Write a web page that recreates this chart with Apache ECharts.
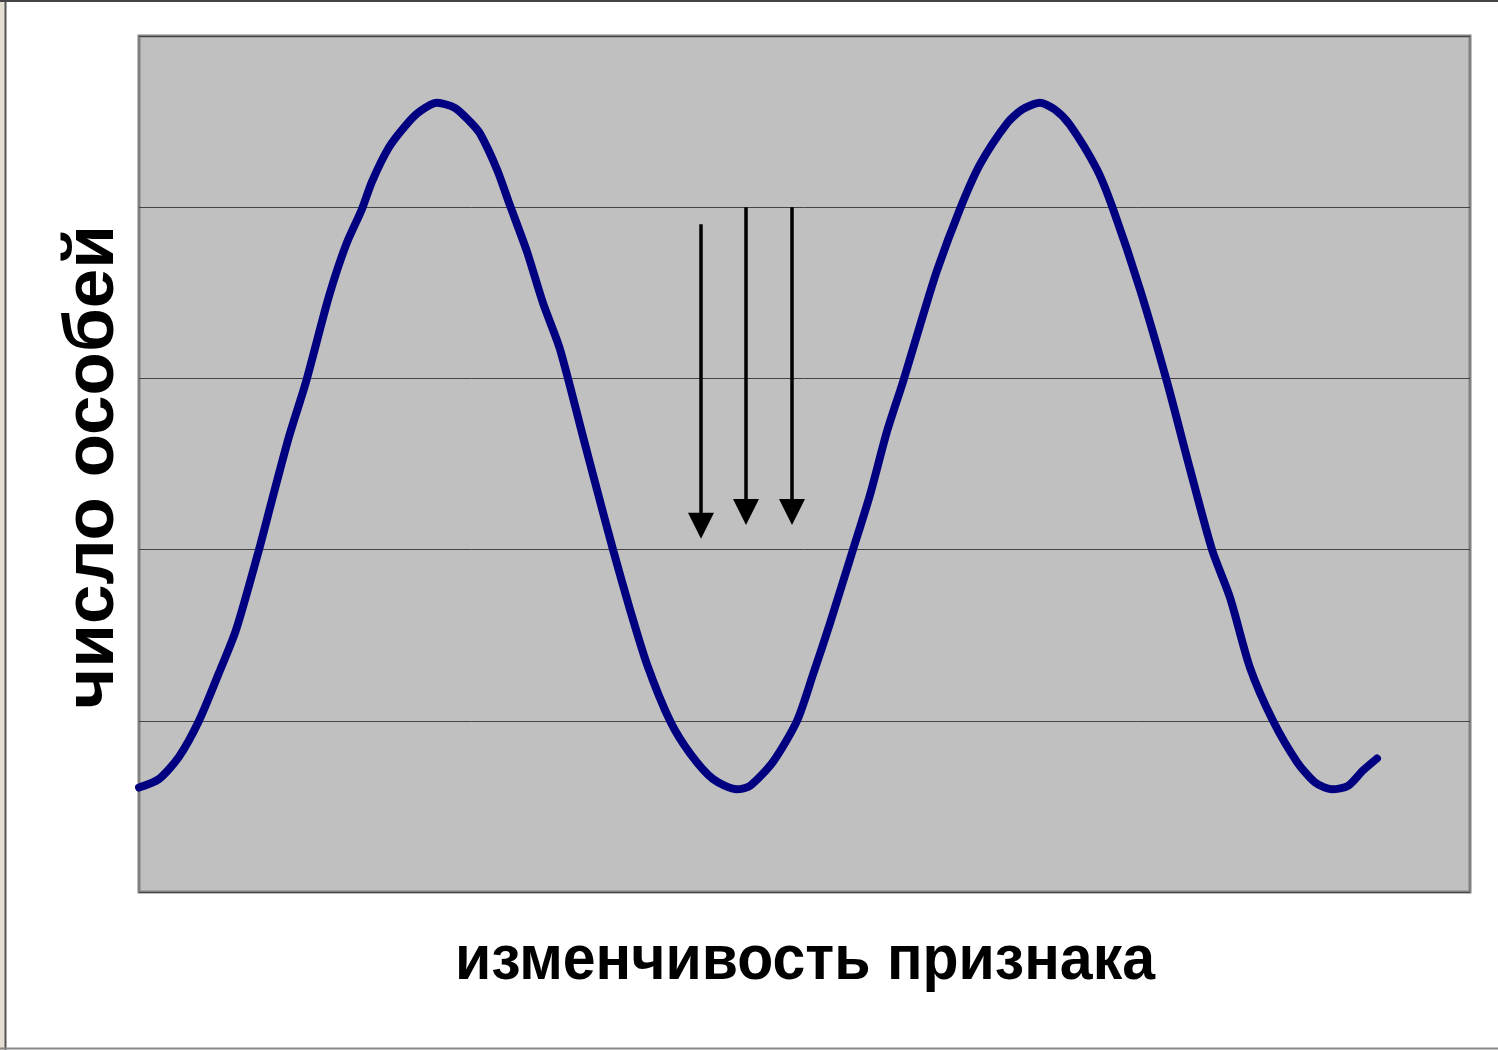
<!DOCTYPE html>
<html>
<head>
<meta charset="utf-8">
<script src="https://cdn.jsdelivr.net/npm/echarts@6/dist/echarts.min.js"></script>
<style>
  html, body { margin: 0; padding: 0; background: #fff; }
  #chart { width: 1498px; height: 1050px; }
</style>
</head>
<body>
<div id="chart"></div>
<script>
// curve: x = position along the axis, y = count
var curveX = [0.0, 2.0, 4.0, 6.0, 8.0, 9.7, 12.0, 13.3, 15.0, 16.7, 19.0, 20.7, 22.3, 23.3, 25.0, 26.7, 28.1, 29.8,
              31.6, 33.1, 34.1, 35.8, 37.1, 38.8, 40.4, 42.1, 44.4, 45.8, 47.4, 49.1, 50.8, 53.1, 55.1, 57.4, 59.8,
              61.1, 63.4, 65.8, 67.4, 69.1, 71.4, 73.1, 74.8, 76.4, 78.1, 79.8, 82.1, 84.1, 86.8, 88.3, 90.1,
              91.6, 93.1, 95.8, 97.4, 100.1, 102.8, 105.1, 107.3, 109.1, 111.1, 113.4, 115.8, 117.6, 119.3, 120.9, 122.4, 123.8];
var curveY = [0.61, 0.66, 0.79, 1.00, 1.28, 1.53, 2.00, 2.29, 2.66, 2.98, 3.48, 3.78, 3.99, 4.15, 4.35, 4.48, 4.56, 4.61,
              4.58, 4.50, 4.43, 4.22, 4.01, 3.74, 3.44, 3.17, 2.66, 2.35, 2.00, 1.65, 1.33, 1.00, 0.81, 0.66, 0.60,
              0.62, 0.76, 1.00, 1.27, 1.57, 2.00, 2.32, 2.69, 2.98, 3.31, 3.63, 3.99, 4.25, 4.49, 4.57, 4.61,
              4.57, 4.48, 4.22, 3.99, 3.52, 2.98, 2.47, 2.00, 1.72, 1.31, 1.00, 0.76, 0.64, 0.60, 0.62, 0.71, 0.78];

// three downward arrows (line start, line end where the head is centred)
var arrowX = [56.2, 60.7, 65.3];
var arrowTop = [3.90, 4.00, 4.00];
var arrowEnd = [2.14, 2.22, 2.22];

var xMax = 133.1;
var yTicks = [0, 1, 2, 3, 4, 5];

var xTitle = 'изменчивость признака';
var yTitle = 'число особей';

var chart = echarts.init(document.getElementById('chart'));

var curve = [];
for (var i = 0; i < curveX.length; i++) {
    curve.push([curveX[i], curveY[i]]);
}
var arrows = [];
for (var j = 0; j < arrowX.length; j++) {
    arrows.push({ coords: [[arrowX[j], arrowTop[j]], [arrowX[j], arrowEnd[j]]] });
}

var option = {
    backgroundColor: '#fff',
    animation: false,
    grid: {
        left: 139,
        top: 36,
        right: 28,
        bottom: 158,
        show: true,
        backgroundColor: '#c0c0c0',
        borderColor: '#808080',
        borderWidth: 3
    },
    xAxis: {
        type: 'value',
        min: 0,
        max: xMax,
        axisLine: { show: false },
        axisTick: { show: false },
        axisLabel: { show: false },
        splitLine: { show: false }
    },
    yAxis: {
        type: 'value',
        min: yTicks[0],
        max: yTicks[yTicks.length - 1],
        interval: 1,
        axisLine: { show: false },
        axisTick: { show: false },
        axisLabel: { show: false },
        splitLine: {
            show: true,
            lineStyle: { color: '#444', width: 1 }
        }
    },
    graphic: [
        { type: 'rect', shape: { x: 0, y: 0, width: 5, height: 1050 }, style: { fill: '#e4dfd0' } },
        { type: 'line', shape: { x1: 5.5, y1: 0, x2: 5.5, y2: 1050 }, style: { stroke: '#555', lineWidth: 2 } },
        { type: 'line', shape: { x1: 0, y1: 1, x2: 1498, y2: 1 }, style: { stroke: '#444', lineWidth: 2 } },
        { type: 'line', shape: { x1: 0, y1: 1048.5, x2: 1498, y2: 1048.5 }, style: { stroke: '#888', lineWidth: 2 } },
        {
            type: 'text',
            x: 805,
            y: 961,
            scaleY: 1.08,
            style: {
                text: xTitle,
                fill: '#000',
                font: 'bold 59px "Liberation Sans", Arial, sans-serif',
                textAlign: 'center',
                textVerticalAlign: 'middle'
            }
        },
        {
            type: 'text',
            x: 93,
            y: 467,
            rotation: Math.PI / 2,
            style: {
                text: yTitle,
                fill: '#000',
                font: 'bold 71px "Liberation Sans", Arial, sans-serif',
                textAlign: 'center',
                textVerticalAlign: 'middle'
            }
        }
    ],
    series: [
        {
            type: 'line',
            data: curve,
            smooth: 0.25,
            symbol: 'none',
            lineStyle: { color: '#000080', width: 8, cap: 'round', join: 'round' },
            z: 3
        },
        {
            type: 'lines',
            coordinateSystem: 'cartesian2d',
            data: arrows,
            symbol: ['none', 'triangle'],
            symbolSize: [18, 26],
            lineStyle: { color: '#000', width: 3.5, opacity: 1 },
            itemStyle: { color: '#000' },
            z: 4
        }
    ]
};

chart.setOption(option);
</script>
</body>
</html>
